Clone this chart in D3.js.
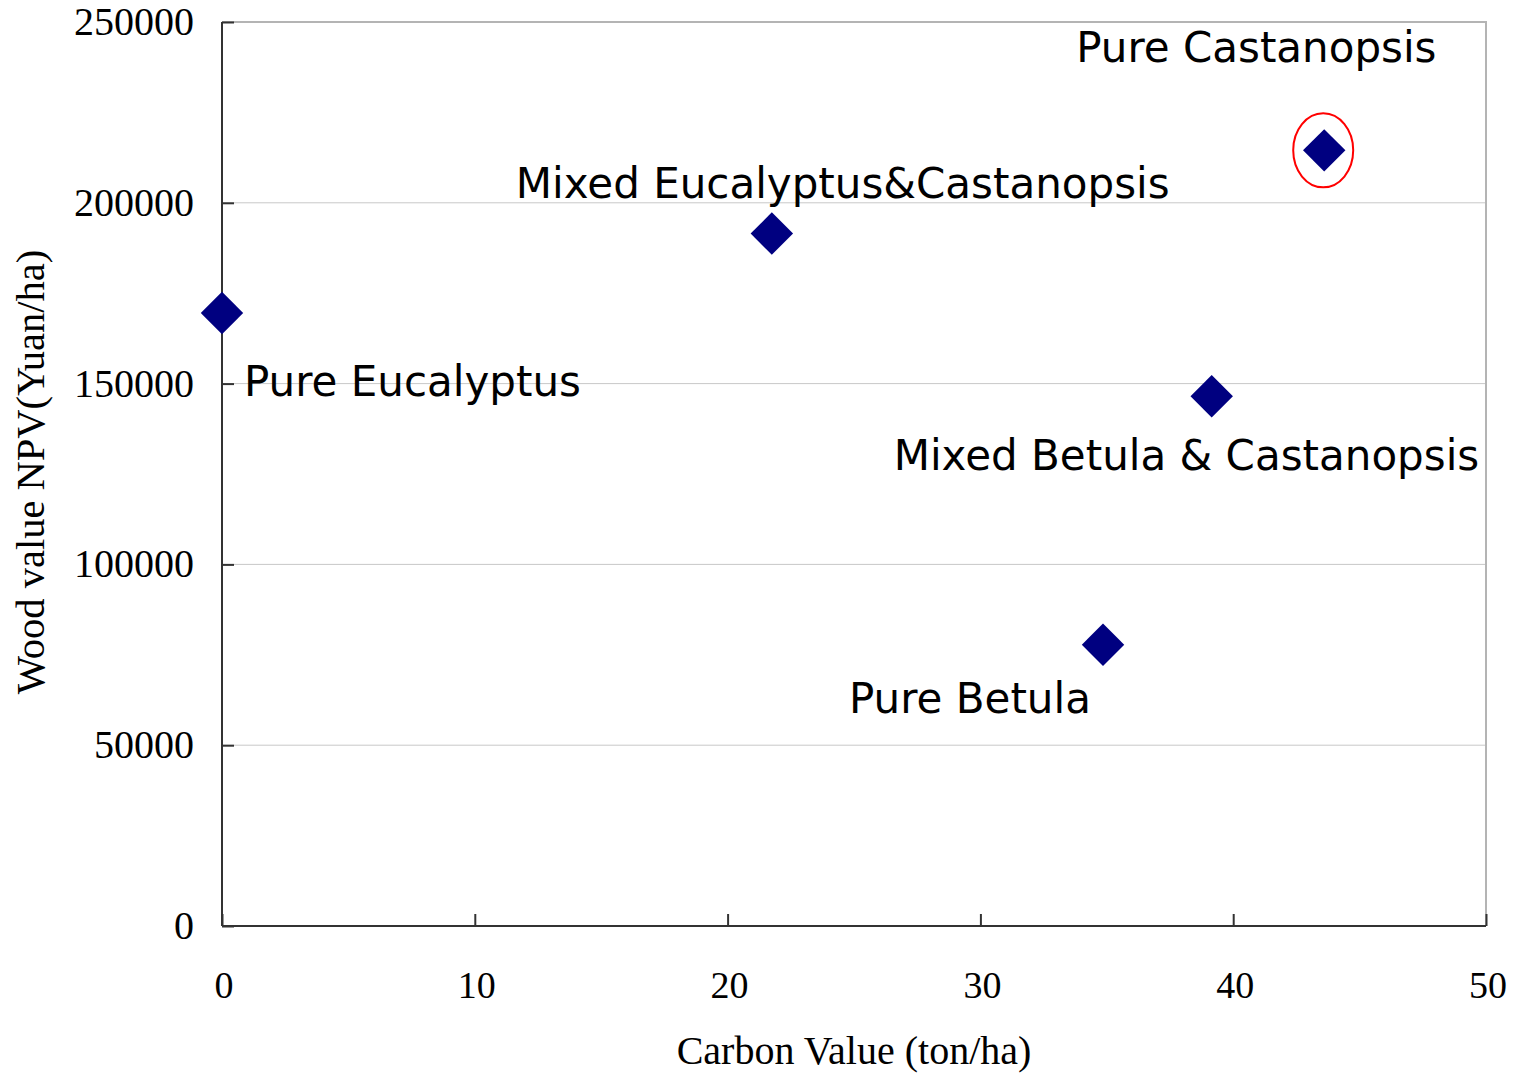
<!DOCTYPE html>
<html>
<head>
<meta charset="utf-8">
<script src="https://cdn.jsdelivr.net/npm/d3@7"></script>
<style>
  body { margin: 0; background: #fff; }
</style>
</head>
<body>
<div id="root"></div>
<script>
// data
const standNames = ['Pure Eucalyptus', 'Mixed Eucalyptus&Castanopsis', 'Pure Castanopsis',
  'Mixed Betula & Castanopsis', 'Pure Betula'];
const carbonValues = [0, 21.75, 43.6, 39.15, 34.85];
const npvValues = [169500, 191500, 214500, 146500, 77800];
const xTicks = [0, 10, 20, 30, 40, 50];
const yTicks = [0, 50000, 100000, 150000, 200000, 250000];
const highlighted = 'Pure Castanopsis';

// label placement relative to each point (pixels)
const labelOffsets = [[22, 83], [-256, -36], [-248, -88], [-318, 74], [-254, 68]];

const width = 1518;
const height = 1074;
const margin = { left: 222, right: 32, top: 22, bottom: 148 };

const svg = d3.select('#root')
  .append('svg')
  .attr('width', width)
  .attr('height', height);

const x = d3.scaleLinear().domain([0, 50]).range([margin.left, width - margin.right]);
const y = d3.scaleLinear().domain([0, 250000]).range([height - margin.bottom, margin.top]);

// grid lines
svg.selectAll('.grid')
  .data(yTicks.slice(1, -1))
  .enter()
  .append('line')
  .attr('x1', x(0))
  .attr('x2', x(50))
  .attr('y1', (d) => y(d))
  .attr('y2', (d) => y(d))
  .style('stroke', '#c8c8c8')
  .style('stroke-width', '1px');

// top and right border
svg.append('path')
  .attr('d', `M${ x(0) },${ y(250000) }H${ x(50) }V${ y(0) }`)
  .style('fill', 'none')
  .style('stroke', '#b4b4b4')
  .style('stroke-width', '2px');

const yAxis = svg.append('g')
  .attr('transform', `translate(${ x(0) },0)`)
  .call(d3.axisRight(y).tickValues(yTicks).tickSize(12).tickFormat(''));
yAxis.select('.domain').attr('d', `M0,${ y(250000) }V${ y(0) }`);

const xAxis = svg.append('g')
  .attr('transform', `translate(0,${ y(0) })`)
  .call(d3.axisTop(x).tickValues(xTicks).tickSize(12).tickFormat(''));
xAxis.select('.domain').attr('d', `M${ x(0) },0H${ x(50) }`);

svg.selectAll('.domain, .tick line')
  .style('stroke', '#333')
  .style('stroke-width', '2px');

svg.selectAll('.ytl')
  .data(yTicks)
  .enter()
  .append('text')
  .attr('x', x(0) - 28)
  .attr('y', (d) => y(d) + 13)
  .attr('text-anchor', 'end')
  .attr('font-family', 'Liberation Serif')
  .attr('font-size', '40px')
  .text((d) => d);

svg.selectAll('.xtl')
  .data(xTicks)
  .enter()
  .append('text')
  .attr('x', (d) => x(d) + 2)
  .attr('y', y(0) + 72)
  .attr('text-anchor', 'middle')
  .attr('font-family', 'Liberation Serif')
  .attr('font-size', '38px')
  .text((d) => d);

svg.append('text')
  .attr('x', 854)
  .attr('y', 1064)
  .attr('text-anchor', 'middle')
  .attr('font-family', 'Liberation Serif')
  .attr('font-size', '40px')
  .text('Carbon Value (ton/ha)');

svg.append('text')
  .attr('transform', 'translate(44,472) rotate(-90)')
  .attr('text-anchor', 'middle')
  .attr('font-family', 'Liberation Serif')
  .attr('font-size', '40.5px')
  .text('Wood value NPV(Yuan/ha)');

const points = standNames.map((name, i) => ({ name, cx: carbonValues[i], npv: npvValues[i], off: labelOffsets[i] }));

const diamond = d3.symbol().type(d3.symbolSquare).size(900);
svg.selectAll('.pt')
  .data(points)
  .enter()
  .append('path')
  .attr('d', diamond)
  .attr('transform', (d) => `translate(${ x(d.cx) },${ y(d.npv) }) rotate(45)`)
  .style('fill', '#000080');

svg.selectAll('.hl')
  .data(points.filter((d) => d.name === highlighted))
  .enter()
  .append('ellipse')
  .attr('cx', (d) => x(d.cx) - 1)
  .attr('cy', (d) => y(d.npv))
  .attr('rx', 30)
  .attr('ry', 37)
  .style('fill', 'none')
  .style('stroke', '#ff0000')
  .style('stroke-width', '2px');

svg.selectAll('.lbl')
  .data(points)
  .enter()
  .append('text')
  .attr('x', (d) => x(d.cx) + d.off[0])
  .attr('y', (d) => y(d.npv) + d.off[1])
  .attr('font-family', 'DejaVu Sans')
  .attr('font-size', '42px')
  .attr('fill', '#000')
  .text((d) => d.name);
</script>
</body>
</html>
